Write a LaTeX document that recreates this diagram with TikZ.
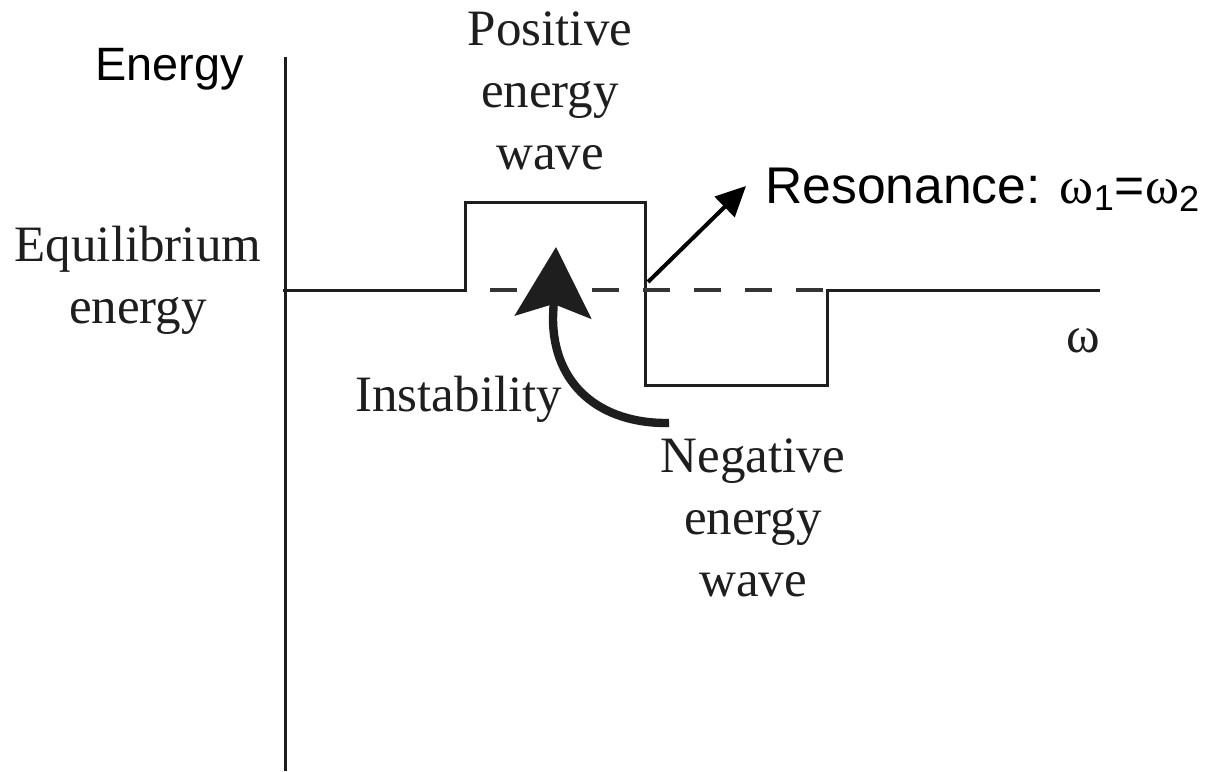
\documentclass[tikz,border=0pt]{standalone}
\usepackage{fontspec}
\setmainfont{Liberation Sans}
\newfontfamily\serifface{Liberation Serif}
\usetikzlibrary{arrows.meta}
\definecolor{ink}{HTML}{1E1E1E}
\tikzset{
  plotline/.style={draw=ink, line width=1.5pt},
  dashline/.style={draw=ink!90, line width=1.6pt, dash pattern=on 13.5pt off 12pt},
  sanslabel/.style={inner sep=0pt, font=\fontsize{23.4pt}{28pt}\selectfont},
  reslabel/.style={inner sep=0pt, font=\fontsize{25.8pt}{30pt}\selectfont},
  seriflabel/.style={inner sep=0pt, align=center, text=ink, font=\serifface\fontsize{25.5pt}{31pt}\selectfont},
  resarrow/.style={draw=black, line width=2pt, -{Triangle[length=15pt,width=14pt]}},
  bigarrow/.style={draw=ink, line width=4.2pt, line cap=butt, line join=round, -{Stealth[length=35pt,width=38pt,inset=6.5pt]}}
}
\begin{document}
\begin{tikzpicture}[x=0.5pt,y=-0.5pt]
\useasboundingbox (0,0) rectangle (1214,771);
% axes and energy profile
\draw[plotline] (285,57) -- (285,771);
\draw[plotline] (283,290) -- (465,290) -- (465,202) -- (645,202) -- (645,385) -- (827,385) -- (827,290) -- (1100,290);
\draw[dashline] (490,290) -- (826,290);
% labels (base anchor = baseline of the last line)
\node[sanslabel, anchor=base west] (eLabel) at (95,80) {Energy};
\node[seriflabel, anchor=base] (eqLabel) at (138,323) {Equilibrium\\energy};
\node[seriflabel, anchor=base] (posLabel) at (550,169) {Positive\\energy\\wave};
\node[seriflabel, anchor=base west] (instLabel) at (355,411) {Instability};
\node[seriflabel, anchor=base] (negLabel) at (753,596) {Negative\\energy\\wave};
\node[seriflabel, anchor=base] (omegaLabel) at (1083,352) {ω};
\node[reslabel, anchor=base west] (resLabel) at (765,203) {Resonance: {\serifface ω}\textsubscript{1}={\serifface ω}\textsubscript{2}};
% connectors
\coordinate (resStart) at (648,282);
\coordinate (resTip) at (746,186);
\draw[resarrow] (resStart) -- (resTip);
\coordinate (instStart) at (669,423);
\coordinate (instBend) at (553,318);
\coordinate (instTip) at (556,247);
\draw[bigarrow] (instStart) .. controls (600,424) and (553,385) .. (instBend) -- (instTip);
\end{tikzpicture}
\end{document}
